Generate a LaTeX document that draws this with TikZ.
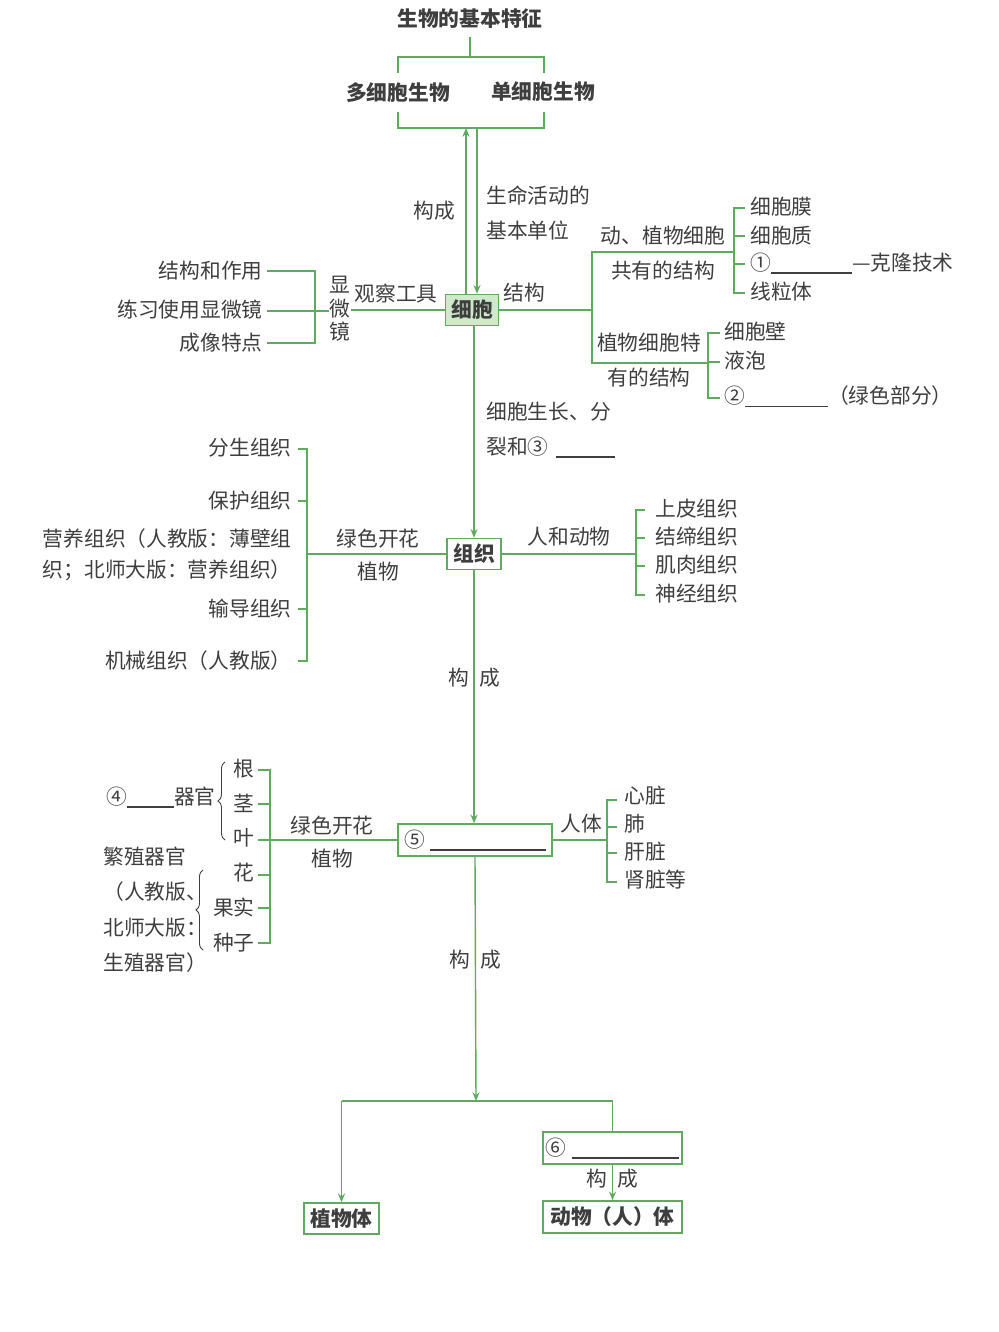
\documentclass[tikz,border=0pt]{standalone}
\usepackage{fontspec}
\setmainfont{Noto Sans CJK SC}
\usetikzlibrary{arrows.meta,decorations.pathreplacing}
\definecolor{lgreen}{RGB}{96,170,96}
\definecolor{tgray}{RGB}{62,62,62}
\definecolor{cellfill}{RGB}{208,232,204}
\tikzset{
  ln/.style={draw=lgreen,line width=0.8pt},
  arr/.style={ln,-{Stealth[length=5pt,width=4pt]}},
  txt/.style={text=tgray,inner sep=0pt,font=\fontsize{11.8}{14}\selectfont},
  hd/.style={txt,font=\bfseries\fontsize{11.8}{14}\selectfont},
  bx/.style={ln,fill=white,text=tgray,inner sep=0pt,font=\bfseries\fontsize{11.8}{14}\selectfont},
  brc/.style={draw=tgray,line width=0.5pt,decorate,decoration={brace,amplitude=4pt}},
}
\newcommand{\blank}[1]{\rule[-2pt]{#1}{0.6pt}}

\begin{document}
\begin{tikzpicture}[x=0.02cm,y=-0.02cm]
\useasboundingbox (0,0) rectangle (999,1332);

% top
\node[hd] (title) at (470,19) {生物的基本特征};
\node[hd] (multi) at (398,93) {多细胞生物};
\node[hd] (single) at (543,92) {单细胞生物};
\coordinate (tj) at (470,57);
\coordinate (bj) at (470,128);
\draw[ln] (470,37) -- (tj);
\draw[ln] (398,73) -- (398,57) -- (544,57) -- (544,73);
\draw[ln] (398,112) -- (398,128) -- (544,128) -- (544,112);

% cell
\node[bx,fill=cellfill,minimum width=1.06cm,minimum height=0.62cm] (cell) at (472,310) {细胞};
\draw[arr] ([xshift=-0.12cm]cell.north) -- ([xshift=-0.12cm]cell.north |- bj);
\draw[arr] ([xshift=0.1cm]cell.north |- bj) -- ([xshift=0.1cm]cell.north);
\node[txt] (gc1) at (434,211) {构成};
\node[txt,anchor=west] (unit1) at (486,196) {生命活动的};
\node[txt,anchor=west] (unit2) at (486,231) {基本单位};

% microscope
\node[txt,align=center,font=\fontsize{11.8}{13.4}\selectfont] (scope) at (340,309) {显\\微\\镜};
\node[txt] (tool) at (396,294) {观察工具};
\draw[ln] (cell.west) -- (scope.east |- cell.west);
\coordinate (mb) at (315,311);
\node[txt,anchor=east] (m1) at (263,271) {结构和作用};
\node[txt,anchor=east] (m2) at (263,310) {练习使用显微镜};
\node[txt,anchor=east] (m3) at (263,343) {成像特点};
\draw[ln] ([xshift=2pt]m1.east) -| (mb);
\draw[ln] ([xshift=2pt]m3.east) -| (mb);
\draw[ln] ([xshift=2pt]m2.east |- mb) -- (scope.west |- mb);

% structure
\coordinate (sb) at (592,310);
\node[txt] (jg) at (524,293) {结构};
\draw[ln] (cell.east) -- (sb);
\draw[ln] (708,363) -- (592,363) -- (592,252) -- (734,252);
\node[txt] (s1) at (663,236) {动、植物细胞};
\node[txt] (s2) at (663,271) {共有的结构};
\node[txt] (s3) at (649,343) {植物细胞特};
\node[txt] (s4) at (649,378) {有的结构};
\draw[ln] (745,208) -- (734,208) -- (734,293) -- (745,293);
\draw[ln] (734,236) -- (745,236);
\draw[ln] (734,264) -- (745,264);
\node[txt,anchor=west] (a1) at (750,207) {细胞膜};
\node[txt,anchor=west] (a2) at (750,236) {细胞质};
\node[txt,anchor=west] (a3) at (750,263) {①\blank{1.62cm}—克隆技术};
\node[txt,anchor=west] (a4) at (750,292) {线粒体};
\draw[ln] (720,333) -- (708,333) -- (708,398) -- (720,398);
\draw[ln] (708,362) -- (720,362);
\node[txt,anchor=west] (p1) at (724,332) {细胞壁};
\node[txt,anchor=west] (p2) at (724,361) {液泡};
\node[txt,anchor=west] (p3) at (724,396) {②\blank{1.66cm}（绿色部分）};

% tissue
\node[txt,anchor=west] (grow1) at (486,412) {细胞生长、分};
\node[txt,anchor=west] (grow2) at (486,447) {裂和③\hspace{4pt}\blank{1.18cm}};
\node[bx,minimum width=1.08cm,minimum height=0.62cm] (tissue) at (474,554) {组织};
\draw[arr] (cell.south -| tissue.north) -- (tissue.north);

\coordinate (tl) at (307,554);
\draw[ln] (tissue.west) -- (tl);
\draw[ln] (298,449) -- (307,449) -- (307,661) -- (298,661);
\draw[ln] (298,501) -- (307,501);
\draw[ln] (298,609) -- (307,609);
\node[txt,anchor=east] (t1) at (292,448) {分生组织};
\node[txt,anchor=east] (t2) at (292,501) {保护组织};
\node[txt,anchor=east,align=left,font=\fontsize{11.8}{17.5}\selectfont] (t3) at (292,555) {营养组织（人教版：薄壁组\\织；北师大版：营养组织）};
\node[txt,anchor=east] (t4) at (292,609) {输导组织};
\node[txt,anchor=east] (t5) at (292,661) {机械组织（人教版）};
\node[txt] (gp1) at (378,539) {绿色开花};
\node[txt] (gp2) at (378,572) {植物};

\coordinate (tr) at (636,554);
\draw[ln] (tissue.east) -- (tr);
\draw[ln] (645,510) -- (636,510) -- (636,595) -- (645,595);
\draw[ln] (636,538) -- (645,538);
\draw[ln] (636,566) -- (645,566);
\node[txt] (ha) at (569,537) {人和动物};
\node[txt,anchor=west] (r1) at (655,509) {上皮组织};
\node[txt,anchor=west] (r2) at (655,537) {结缔组织};
\node[txt,anchor=west] (r3) at (655,565) {肌肉组织};
\node[txt,anchor=west] (r4) at (655,594) {神经组织};

% organ
\node[bx,font=\fontsize{11.8}{14}\selectfont,minimum width=3.08cm,minimum height=0.64cm] (organ) at (475,840) {⑤\hspace{3pt}\blank{2.32cm}};
\draw[arr] (tissue.south) -- (tissue.south |- organ.north);
\node[txt] (gc2) at (474,678) {构\hspace{6pt}成};

\coordinate (or) at (607,840);
\draw[ln] (organ.east) -- (or);
\draw[ln] (617,800) -- (607,800) -- (607,882) -- (617,882);
\draw[ln] (607,827) -- (617,827);
\draw[ln] (607,853) -- (617,853);
\node[txt] (hb) at (581,824) {人体};
\node[txt,anchor=west] (o1) at (624,796) {心脏};
\node[txt,anchor=west] (o2) at (624,824) {肺};
\node[txt,anchor=west] (o3) at (624,852) {肝脏};
\node[txt,anchor=west] (o4) at (624,880) {肾脏等};

\coordinate (ol) at (270,840);
\draw[ln] (organ.west) -- (ol);
\draw[ln] (258,770) -- (270,770) -- (270,943) -- (258,943);
\foreach \yy in {804,840,875,908}
  \draw[ln] (258,\yy) -- (270,\yy);
\node[txt,anchor=east] (g1) at (255,769) {根};
\node[txt,anchor=east] (g2) at (255,803) {茎};
\node[txt,anchor=east] (g3) at (255,838) {叶};
\node[txt,anchor=east] (g4) at (255,873) {花};
\node[txt,anchor=east] (g5) at (255,908) {果实};
\node[txt,anchor=east] (g6) at (255,943) {种子};
\draw[brc] (225,840) -- (225,762);
\draw[brc] (203,950) -- (203,870);
\node[txt,anchor=east] (veg) at (216,797) {④\blank{0.94cm}器官};
\node[txt,anchor=west] (rep1) at (103,857) {繁殖器官};
\node[txt,anchor=west] (rep2) at (103,892) {（人教版、};
\node[txt,anchor=west] (rep3) at (103,928) {北师大版：};
\node[txt,anchor=west] (rep4) at (103,963) {生殖器官）};
\node[txt] (gp3) at (332,826) {绿色开花};
\node[txt] (gp4) at (332,859) {植物};

% body
\coordinate (bd) at (476,1101);
\draw[arr] (organ.south) -- (bd);
\node[txt] (gc3) at (475,960) {构\hspace{6pt}成};
\node[bx,minimum width=1.5cm,minimum height=0.62cm] (plant) at (341.5,1218.5) {植物体};
\node[bx,font=\fontsize{11.8}{14}\selectfont,minimum width=2.78cm,minimum height=0.64cm] (six) at (612.5,1148) {⑥\hspace{3pt}\blank{2.16cm}};
\node[bx,minimum width=2.78cm,minimum height=0.64cm] (animal) at (612.5,1217) {动物（人）体};
\draw[ln] (plant.north |- bd) -- (six.north |- bd);
\draw[arr] (plant.north |- bd) -- (plant.north);
\draw[ln] (six.north |- bd) -- (six.north);
\draw[arr] (six.south) -- (animal.north);
\node[txt] (gc4) at (612,1179) {构\hspace{6pt}成};
\end{tikzpicture}
\end{document}
